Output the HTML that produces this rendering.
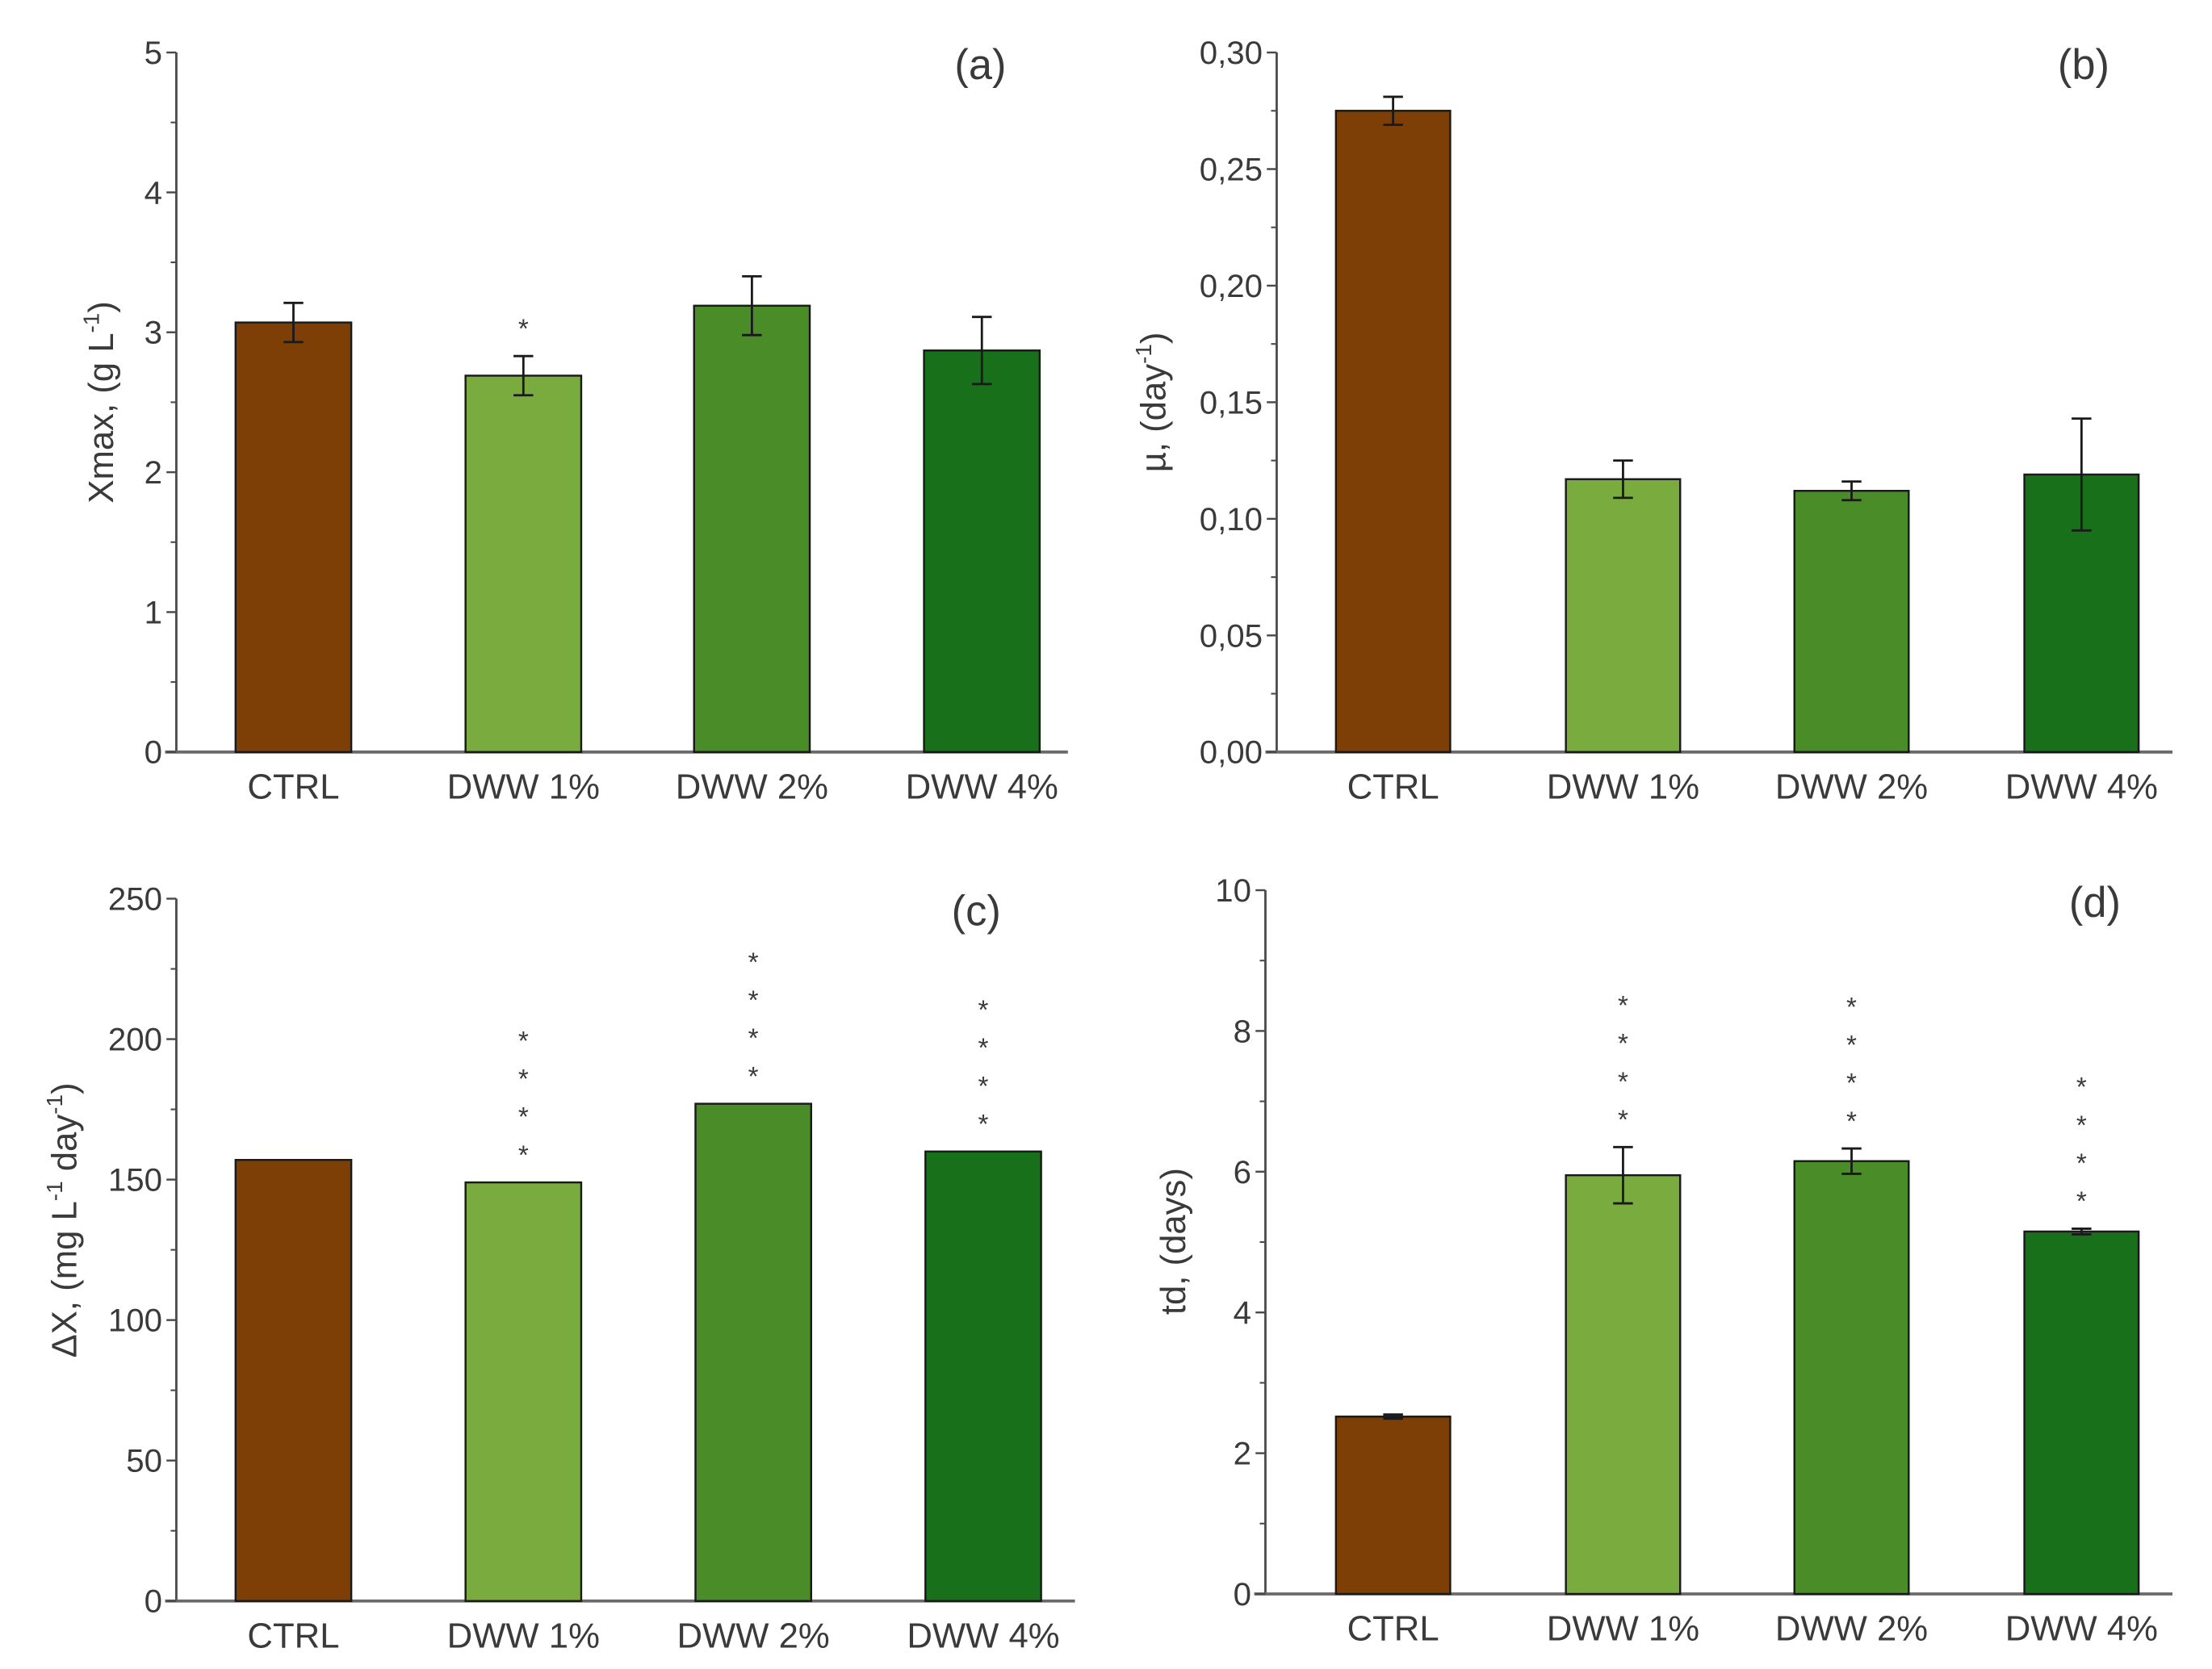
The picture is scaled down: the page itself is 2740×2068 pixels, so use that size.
<!DOCTYPE html>
<html><head><meta charset="utf-8">
<style>
html,body{margin:0;padding:0;background:#fff;}
svg{display:block;}
text{font-family:"Liberation Sans",sans-serif;fill:#3a3a3a;}
</style></head>
<body>
<svg id="fig" width="2740" height="2068" viewBox="0 0 1568 1183" xmlns="http://www.w3.org/2000/svg"></svg>
<script>
const categories = ["CTRL","DWW 1%","DWW 2%","DWW 4%"];
const colors = ["#7d3f05","#7aab3e","#4a8c27","#18701a"];
const xmaxValues = [3.07, 2.69, 3.19, 2.87];
const xmaxErrors = [0.14, 0.14, 0.21, 0.24];
const xmaxStars = [0, 1, 0, 0];
const xmaxTicks = ["0","1","2","3","4","5"];
const muValues = [0.275, 0.117, 0.112, 0.119];
const muErrors = [0.006, 0.008, 0.004, 0.024];
const muStars = [0, 0, 0, 0];
const muTicks = ["0,00","0,05","0,10","0,15","0,20","0,25","0,30"];
const dxValues = [157, 149, 177, 160];
const dxErrors = [0, 0, 0, 0];
const dxStars = [0, 4, 4, 4];
const dxTicks = ["0","50","100","150","200","250"];
const tdValues = [2.52, 5.95, 6.15, 5.15];
const tdErrors = [0.03, 0.40, 0.18, 0.04];
const tdStars = [0, 4, 4, 4];
const tdTicks = ["0","2","4","6","8","10"];

const NS = "http://www.w3.org/2000/svg";
const svg = document.getElementById("fig");
function mk(tag, attrs, parent){
  const e = document.createElementNS(NS, tag);
  for (const k in attrs) e.setAttribute(k, attrs[k]);
  (parent||svg).appendChild(e);
  return e;
}

function panel(cfg){
  const g = mk("g", {});
  
  
  const {x0, yTop, yBot, xEnd, max, ticks, values, errors, stars, barX, barW} = cfg;
  const yS = v => yBot - v / max * (yBot - yTop);
  const ya = mk("line", {x1:x0, y1:yTop, x2:x0, y2:yBot, stroke:"#4a4a4a", "stroke-width":1.6}, g);
  
  
  const xa = mk("line", {x1:x0-8, y1:yBot, x2:xEnd, y2:yBot, stroke:"#6a6a6a", "stroke-width":2.2}, g);
  
  
  const step = max / (ticks.length - 1);
  ticks.forEach((t, i) => {
    const y = yS(i * step);
    mk("line", {x1:x0-7, y1:y, x2:x0, y2:y, stroke:"#4a4a4a", "stroke-width":1.4}, g);
    if (i < ticks.length - 1) {
      const ym = yS((i + 0.5) * step);
      mk("line", {x1:x0-4, y1:ym, x2:x0, y2:ym, stroke:"#4a4a4a", "stroke-width":1.2}, g);
    }
    const tl = mk("text", {x:x0-10, y:y+8, "text-anchor":"end", "font-size":23}, g);
    tl.textContent = t;
    
    
  });
  values.forEach((v, i) => {
    const bx = barX[i];
    const top = yS(v);
    const r = mk("rect", {x:bx, y:top, width:barW, height:yBot-top, fill:colors[i], stroke:"#1a1a1a", "stroke-width":1.4}, g);
    
    
    const cx = bx + barW/2;
    let hi = top;
    if (errors[i] > 0) {
      const y1 = yS(v + errors[i]), y2 = yS(v - errors[i]);
      hi = y1;
      const eb = mk("path", {d:`M${cx},${y1}V${y2}M${cx-7},${y1}H${cx+7}M${cx-7},${y2}H${cx+7}`, stroke:"#1a1a1a", "stroke-width":1.6, fill:"none"}, g);
      
      
    }
    for (let s = 0; s < stars[i]; s++) {
      const st = mk("text", {x:cx, y:hi - 13 - s*27, "text-anchor":"middle", "font-size":19, fill:"#606060"}, g);
      st.textContent = "*";
      
      
    }
    const cl = mk("text", {x:cx, y:yBot+33, "text-anchor":"middle", "font-size":25}, g);
    cl.textContent = categories[i];
    
    
  });
  const pl = mk("text", {x:cfg.labX, y:yTop+19, "text-anchor":"middle", "font-size":30}, g);
  pl.textContent = cfg.label;
  
  
  const at = mk("text", {x:0, y:0, "text-anchor":"middle", "font-size":25, transform:`translate(${cfg.titleX},${cfg.titleY}) rotate(-90)`}, g);
  at.innerHTML = cfg.title;
  
  
}

panel({name:"panel-a", x0:125, yTop:37, yBot:533, xEnd:757, max:5, ticks:xmaxTicks, values:xmaxValues, errors:xmaxErrors, stars:xmaxStars,
  barX:[167,330,492,655], barW:82, label:"(a)", labX:695, title:'Xmax, (g L<tspan dy="-10" font-size="16">-1</tspan><tspan dy="10">)</tspan>', titleX:80, titleY:285});
panel({name:"panel-b", x0:905, yTop:37, yBot:533, xEnd:1540, max:0.30, ticks:muTicks, values:muValues, errors:muErrors, stars:muStars,
  barX:[947,1110,1272,1435], barW:81, label:"(b)", labX:1477, title:'µ, (day<tspan dy="-10" font-size="16">-1</tspan><tspan dy="10">)</tspan>', titleX:826, titleY:285});
panel({name:"panel-c", x0:125, yTop:637, yBot:1135, xEnd:762, max:250, ticks:dxTicks, values:dxValues, errors:dxErrors, stars:dxStars,
  barX:[167,330,493,656], barW:82, label:"(c)", labX:692, title:'ΔX, (mg L<tspan dy="-10" font-size="16">-1</tspan><tspan dy="10"> day</tspan><tspan dy="-10" font-size="16">-1</tspan><tspan dy="10">)</tspan>', titleX:54, titleY:865});
panel({name:"panel-d", x0:897, yTop:631, yBot:1130, xEnd:1540, max:10, ticks:tdTicks, values:tdValues, errors:tdErrors, stars:tdStars,
  barX:[947,1110,1272,1435], barW:81, label:"(d)", labX:1485, title:'td, (days)', titleX:840, titleY:880});
</script>
</body></html>
